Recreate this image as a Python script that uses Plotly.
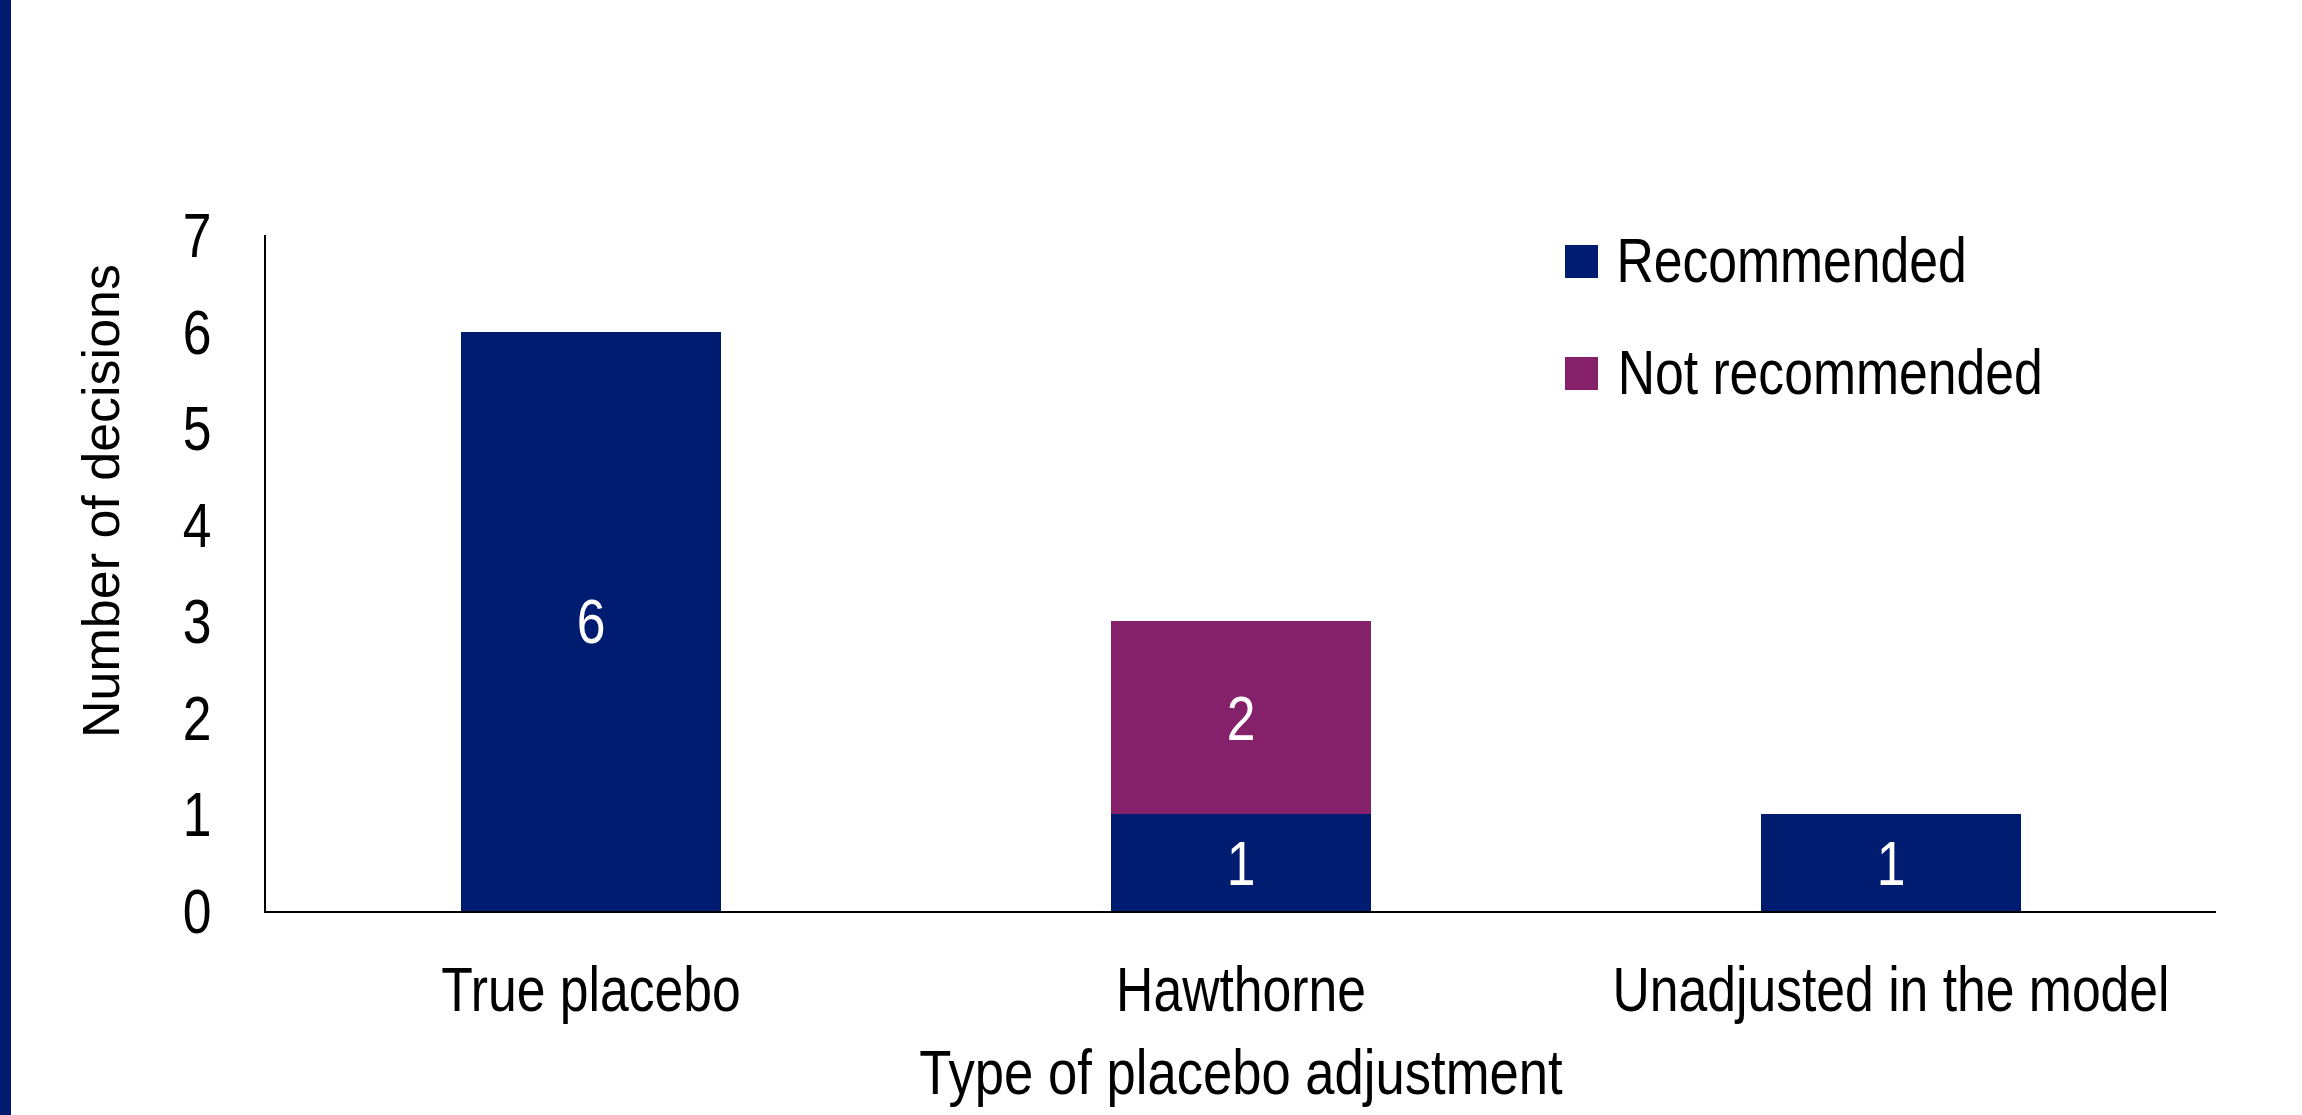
import plotly.graph_objects as go

# Data
categories = ["True placebo", "Hawthorne", "Unadjusted in the model"]
recommended = [6, 1, 1]
not_recommended = [None, 2, None]
series_names = ["Recommended", "Not recommended"]
y_ticks = [0, 1, 2, 3, 4, 5, 6, 7]
x_title = "Type of placebo adjustment"
y_title = "Number of decisions"

NAVY = "#001C70"
PURPLE = "#85216A"
FONT = "Liberation Sans, Arial, sans-serif"
FS = 63

W, H = 2302, 1115
ML, MR, MT, MB = 266, 86, 235, 204
PW, PH = W - ML - MR, H - MT - MB


def px_x(px):
    return (px - ML) / PW


def px_y(py):
    return (H - MB - py) / PH


fig = go.Figure()
fig.add_trace(go.Bar(
    x=categories, y=recommended, name=series_names[0],
    marker=dict(color=NAVY, line=dict(width=0)),
    texttemplate="%{y}", textposition="inside", insidetextanchor="middle",
    textfont=dict(family=FONT, size=FS, color="white"),
))
fig.add_trace(go.Bar(
    x=categories, y=not_recommended, name=series_names[1],
    marker=dict(color=PURPLE, line=dict(width=0)),
    texttemplate="%{y}", textposition="inside", insidetextanchor="middle",
    textfont=dict(family=FONT, size=FS, color="white"),
))

# Legend: colour swatches with labels to their right
shapes = []
annotations = []
legend_rows = [
    (series_names[0], NAVY, 245, 278, 1791),
    (series_names[1], PURPLE, 357, 390, 1830),
]
for name, color, top, bottom, cx in legend_rows:
    shapes.append(dict(type="rect", xref="paper", yref="paper",
                       x0=px_x(1565), x1=px_x(1598), y0=px_y(bottom), y1=px_y(top),
                       fillcolor=color, line=dict(width=0)))
    annotations.append(dict(xref="paper", yref="paper", x=px_x(cx), y=px_y((top + bottom) / 2 - 2),
                            xanchor="center", yanchor="middle", text=name, showarrow=False,
                            font=dict(family=FONT, size=FS, color="black")))

# Vertical axis title
annotations.append(dict(xref="paper", yref="paper", x=px_x(101), y=px_y(501),
                        xanchor="center", yanchor="middle", textangle=-90,
                        text=y_title, showarrow=False,
                        font=dict(family=FONT, size=52, color="black")))

# Left accent strip
shapes.append(dict(type="rect", xref="paper", yref="paper",
                   x0=px_x(0), x1=px_x(11), y0=px_y(H), y1=px_y(0),
                   fillcolor=NAVY, line=dict(width=0), layer="above"))

fig.update_layout(
    width=W, height=H,
    margin=dict(l=ML, r=MR, t=MT, b=MB, pad=0),
    barmode="stack", bargap=0.6,
    plot_bgcolor="white", paper_bgcolor="white",
    showlegend=False,
    shapes=shapes, annotations=annotations,
    xaxis=dict(
        showline=True, linecolor="black", linewidth=2, showgrid=False,
        ticks="", tickfont=dict(family=FONT, size=FS, color="black"),
        ticklabelstandoff=22,
        title=dict(text=x_title, standoff=27,
                   font=dict(family=FONT, size=FS, color="black")),
        automargin=False,
    ),
    yaxis=dict(
        range=[0, 7], tickvals=y_ticks, showline=True, linecolor="black", linewidth=2,
        showgrid=False, zeroline=False, ticks="",
        tickfont=dict(family=FONT, size=FS, color="black"),
        ticklabelstandoff=40,
        automargin=False,
    ),
)

# Horizontal text is set in a narrow face: compress glyph widths in the SVG.
squeeze_js = """
(function(){
  var gd = document.getElementById('{plot_id}');
  var factors = {"%s": 0.835, "%s": 1.0};
  function squeeze(){
    gd.querySelectorAll('svg text').forEach(function(t){
      var s = t.textContent;
      var f = (s in factors) ? factors[s] : 0.82;
      if (f === 1.0 || t.getAttribute('data-sq')) return;
      var w = t.getComputedTextLength();
      if (w > 0) {
        t.setAttribute('lengthAdjust', 'spacingAndGlyphs');
        t.setAttribute('textLength', (w * f).toFixed(1));
        t.setAttribute('data-sq', '1');
      }
    });
  }
  squeeze();
  if (gd.on) { gd.on('plotly_afterplot', squeeze); }
})();
""" % (x_title, y_title)

fig.write_html("out.html", post_script=squeeze_js)
